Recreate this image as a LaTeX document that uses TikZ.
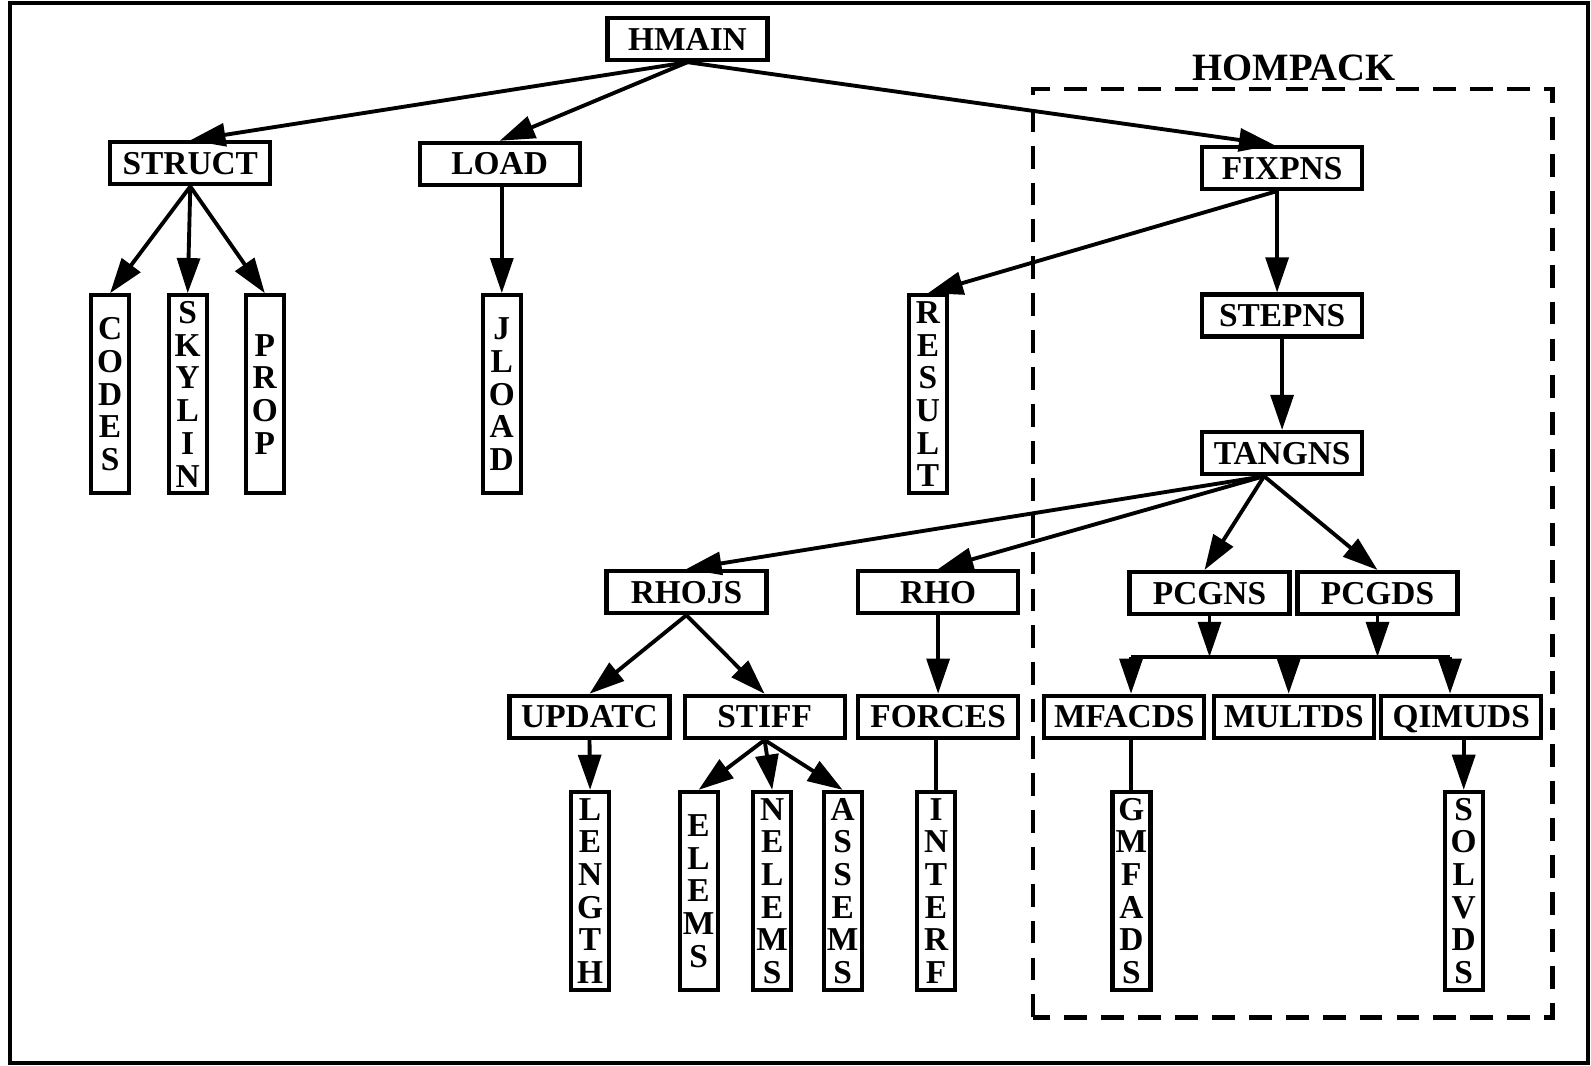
\documentclass[tikz,border=0pt]{standalone}
\usepackage{fontspec}
\setmainfont{Liberation Serif}
\usepackage{tikz}
\usetikzlibrary{arrows.meta,positioning,calc}

\begin{document}
\begin{tikzpicture}[
    >={Triangle[length=10pt,width=6.5pt]},
    routine/.style={draw, line width=1.2pt, minimum width=1.6cm, minimum height=0.42cm,
      inner sep=0pt, text height=6.3pt, text depth=0pt, font=\fontsize{9.5}{9.2}\selectfont\bfseries},
    vroutine/.style={draw, line width=1.2pt, minimum width=0.38cm, minimum height=1.98cm,
      inner sep=0pt, align=center, font=\fontsize{9.5}{9.3}\selectfont\bfseries},
    call/.style={->, line width=1.1pt},
    link/.style={line width=1.1pt},
  ]
  \useasboundingbox (0,0) rectangle (15.91,10.66);
  \draw[line width=0.9pt] (0.10,0.03) rectangle (15.88,10.63);

  % HOMPACK part
  \draw[line width=1.3pt, dash pattern=on 6.5pt off 4pt] (10.33,0.487) rectangle (15.525,9.771);
  \node[font=\fontsize{11}{12}\selectfont\bfseries] (hompack) at (12.94,9.98) {HOMPACK};

  % routines
  \node[routine] (hmain) at (6.875,10.269) {HMAIN};
  \node[routine] (struct) at (1.903,9.026) {STRUCT};
  \node[routine] (load) at (4.997,9.021) {LOAD};
  \node[routine] (fixpns) at (12.821,8.980) {FIXPNS};
  \node[routine] (stepns) at (12.821,7.504) {STEPNS};
  \node[routine] (tangns) at (12.821,6.129) {TANGNS};
  \node[routine] (rhojs) at (6.864,4.739) {RHOJS};
  \node[routine] (rho) at (9.381,4.739) {RHO};
  \node[routine] (pcgns) at (12.095,4.729) {PCGNS};
  \node[routine] (pcgds) at (13.775,4.729) {PCGDS};
  \node[routine] (updatc) at (5.895,3.491) {UPDATC};
  \node[routine] (stiff) at (7.646,3.491) {STIFF};
  \node[routine] (forces) at (9.381,3.491) {FORCES};
  \node[routine] (mfacds) at (11.243,3.491) {MFACDS};
  \node[routine] (multds) at (12.937,3.491) {MULTDS};
  \node[routine] (qimuds) at (14.612,3.491) {QIMUDS};

  % vertical ones
  \node[vroutine] (codes) at (1.101,6.717) {C\\O\\D\\E\\S};
  \node[vroutine] (skylin) at (1.877,6.717) {S\\K\\Y\\L\\I\\N};
  \node[vroutine] (prop) at (2.648,6.717) {P\\R\\O\\P};
  \node[vroutine] (jload) at (5.018,6.717) {J\\L\\O\\A\\D};
  \node[vroutine] (result) at (9.279,6.717) {R\\E\\S\\U\\L\\T};
  \node[vroutine] (length) at (5.901,1.750) {L\\E\\N\\G\\T\\H};
  \node[vroutine] (elems) at (6.986,1.750) {E\\L\\E\\M\\S};
  \node[vroutine] (nelems) at (7.722,1.750) {N\\E\\L\\E\\M\\S};
  \node[vroutine] (assems) at (8.427,1.750) {A\\S\\S\\E\\M\\S};
  \node[vroutine] (interf) at (9.361,1.750) {I\\N\\T\\E\\R\\F};
  \node[vroutine] (gmfads) at (11.314,1.750) {G\\M\\F\\A\\D\\S};
  \node[vroutine] (solvds) at (14.637,1.750) {S\\O\\L\\V\\D\\S};

  % calls
  \draw[call] (hmain.south) -- (struct.north);
  \draw[call] (hmain.south) -- (load.north);
  \draw[call] (hmain.south) -- ([xshift=-0.08cm]fixpns.north);
  \draw[call] (struct.south) -- (codes.north);
  \draw[call] (struct.south) -- (skylin.north);
  \draw[call] (struct.south) -- (prop.north);
  \draw[call] (load.south -| jload.north) -- (jload.north);
  \draw[call] ([xshift=-0.05cm]fixpns.south) -- (result.north);
  \draw[call] ([xshift=-0.05cm]fixpns.south) -- ([xshift=-0.05cm]stepns.north);
  \draw[call] (stepns.south) -- (tangns.north);
  \coordinate (tfork) at ([xshift=-0.18cm]tangns.south);
  \draw[call] (tfork) -- (rhojs.north);
  \draw[call] (tfork) -- (rho.north);
  \draw[call] (tfork) -- ([xshift=-0.05cm]pcgns.north);
  \draw[call] (tfork) -- (pcgds.north);
  \draw[call] (rhojs.south) -- (updatc.north);
  \draw[call] (rhojs.south) -- (stiff.north);
  \draw[call] (rho.south) -- (forces.north);

  % bus under the preconditioners
  \coordinate (busL) at (11.31,4.09);
  \coordinate (busR) at (14.50,4.09);
  \draw[link] (busL) -- (busR);
  \draw[call] (pcgns.south) -- (pcgns.south |- busL);
  \draw[call] (pcgds.south) -- (pcgds.south |- busL);
  \draw[call] (busL) -- (busL |- mfacds.north);
  \draw[call] ([xshift=-0.05cm]multds.north |- busL) -- ([xshift=-0.05cm]multds.north);
  \draw[call] (busR) -- (busR |- qimuds.north);

  \draw[call] (updatc.south) -- (length.north);
  \draw[call] (stiff.south) -- (elems.north);
  \draw[call] (stiff.south) -- (nelems.north);
  \draw[call] (stiff.south) -- (assems.north);
  \draw[link] (interf.north |- forces.south) -- (interf.north);
  \draw[link] (gmfads.north |- mfacds.south) -- (gmfads.north);
  \draw[call] (solvds.north |- qimuds.south) -- (solvds.north);
\end{tikzpicture}
\end{document}
